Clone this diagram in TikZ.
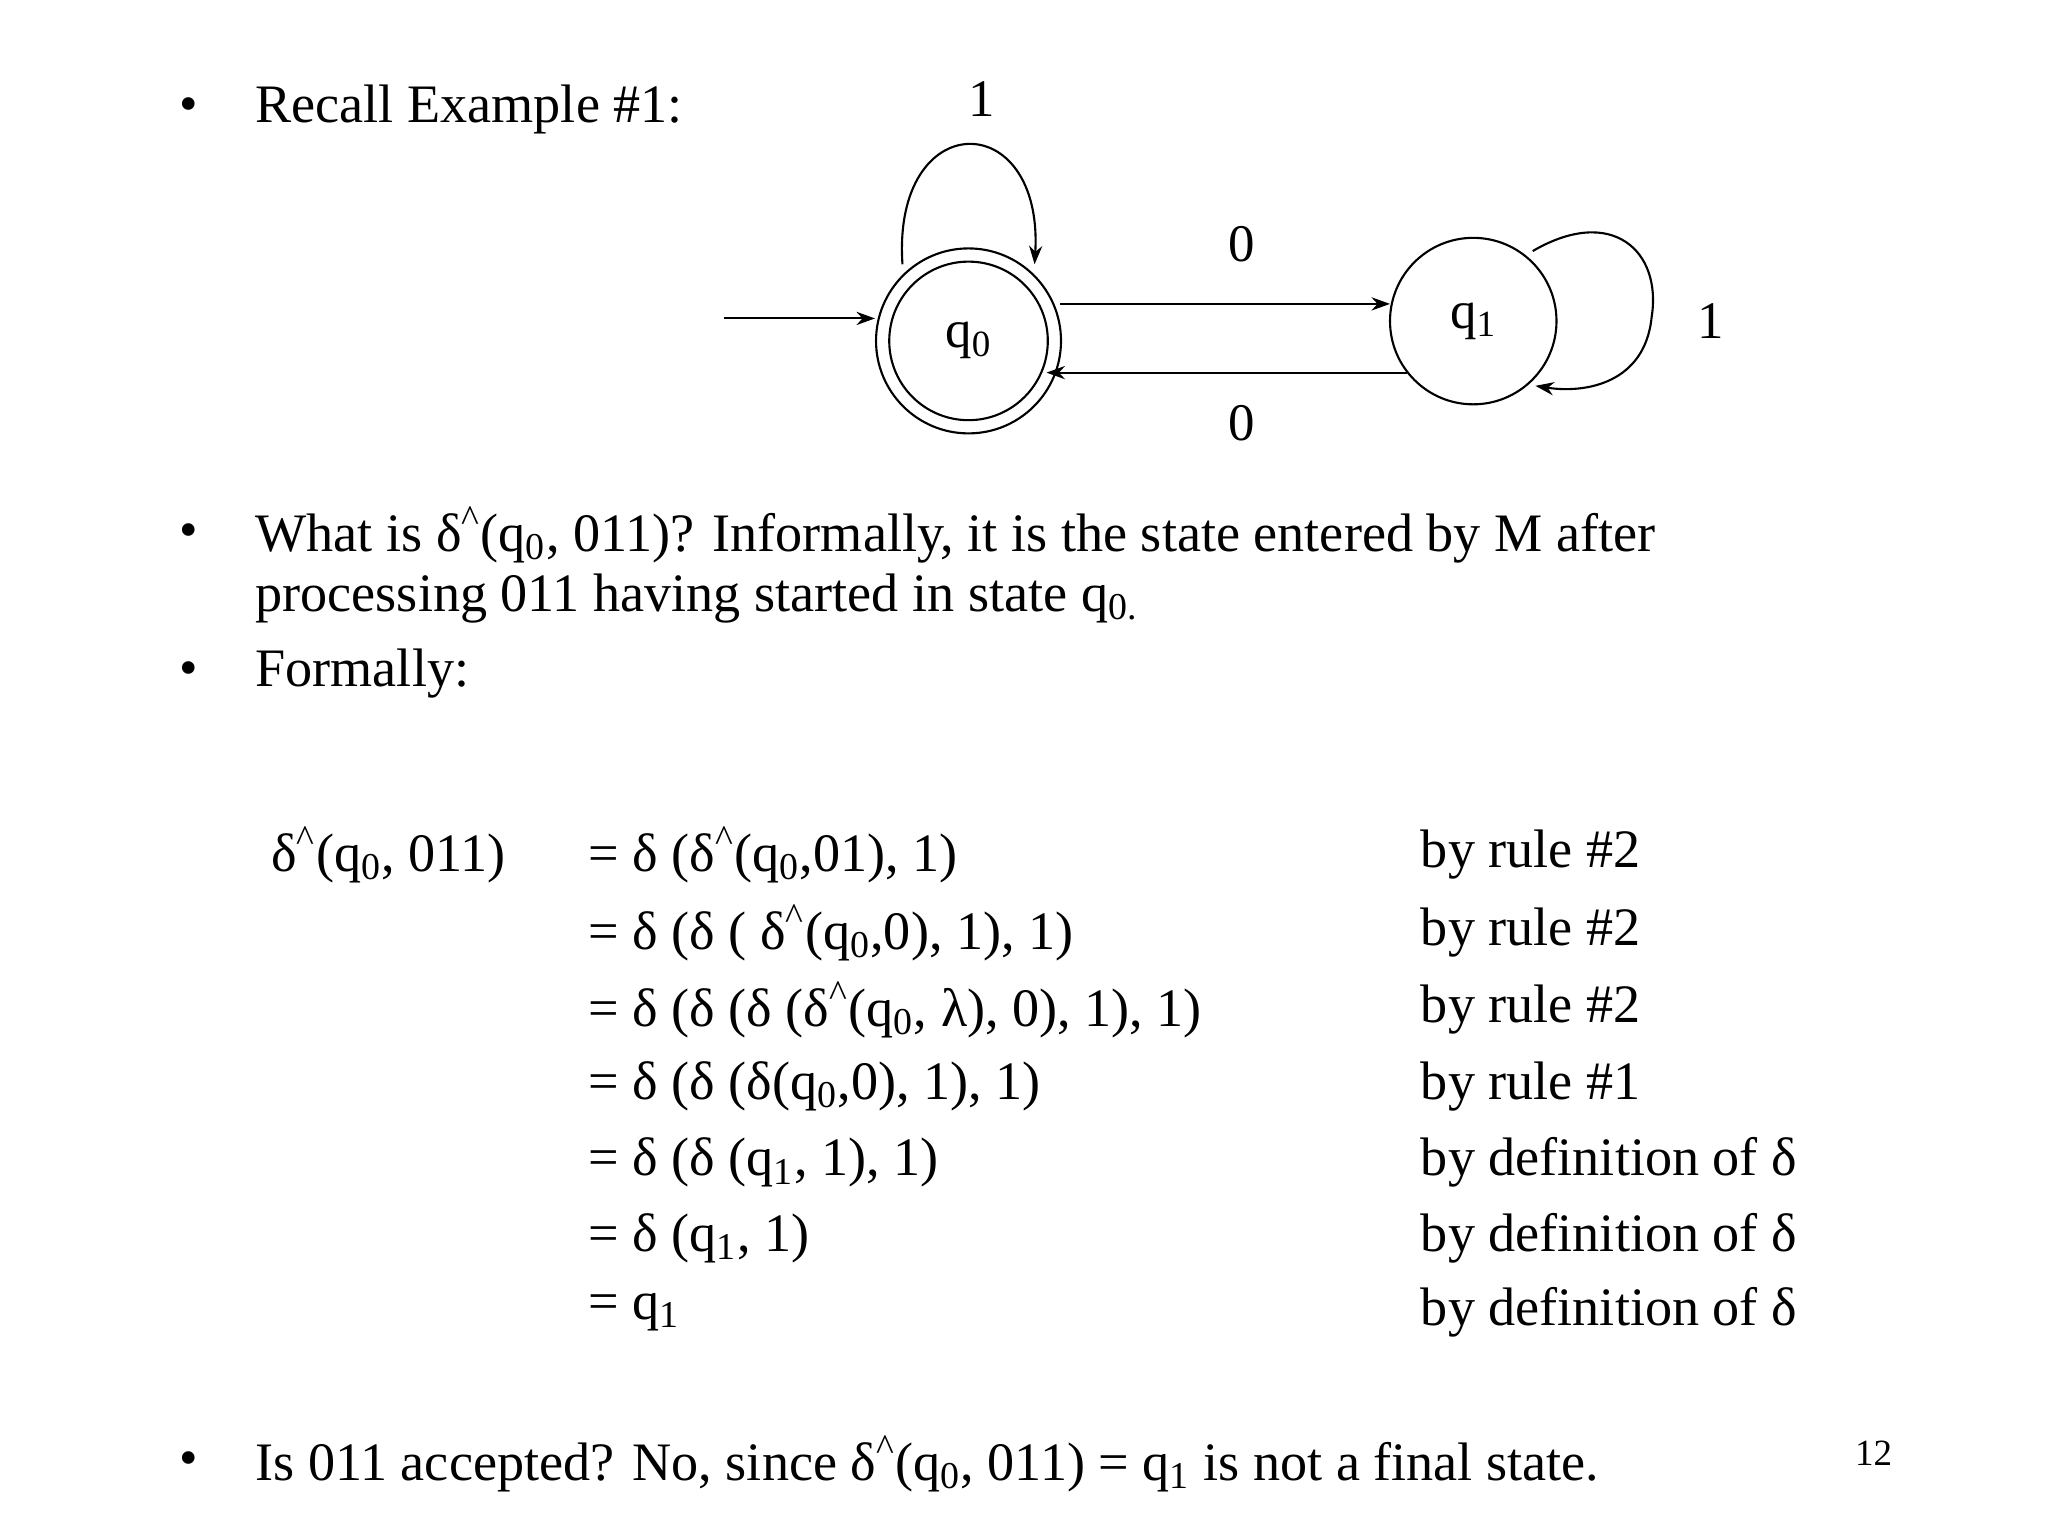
\documentclass[tikz,border=0pt]{standalone}
\usepackage{fontspec}
\setmainfont{Liberation Serif}
\usetikzlibrary{arrows.meta}
\newcommand{\myhat}{δ\textsuperscript{\^{}}}
\newcommand{\qz}{q\textsubscript{0}}
\newcommand{\qo}{q\textsubscript{1}}
\begin{document}
\begin{tikzpicture}[x=0.5pt,y=-0.5pt,
  txt/.style={anchor=west,inner sep=0pt,font=\fontsize{20.5}{24}\selectfont},
  lbl/.style={inner sep=0pt,font=\fontsize{20}{24}\selectfont},
  bul/.style={inner sep=0pt,font=\fontsize{20}{24}\selectfont},
  st/.style={circle,draw,line width=0.8pt,inner sep=0pt,font=\fontsize{20}{24}\selectfont},
  arr/.style={-{Stealth[length=7pt,width=5pt]},line width=0.8pt}]
\useasboundingbox (0,0) rectangle (1550,1162);
\fill[white] (0,0) rectangle (1550,1162);
% bullets
\foreach \n/\y in {b1/83,b2/405,b3/510,b4/1108}{\node[bul] (\n) at (143,\y) {•};}
\node[txt] (t1) at (193,83) {Recall Example \#1:};
\node[txt] (t2) at (193,405) {What is \myhat(\qz, 011)? Informally, it is the state entered by M after};
\node[txt] (t3) at (193,453) {processing 011 having started in state q\textsubscript{0.}};
\node[txt] (t4) at (193,510) {Formally:};
% equations
\node[txt] (e0) at (205,647) {\myhat(\qz, 011)};
\foreach \n/\y/\e/\r in {
 r1/647/{= δ (\myhat(\qz,01), 1)}/{by rule \#2},
 r2/706/{= δ (δ ( \myhat(\qz,0), 1), 1)}/{by rule \#2},
 r3/764/{= δ (δ (δ (\myhat(\qz, λ), 0), 1), 1)}/{by rule \#2},
 r4/822/{= δ (δ (δ(\qz,0), 1), 1)}/{by rule \#1},
 r5/880/{= δ (δ (\qo, 1), 1)}/{by definition of δ},
 r6/937/{= δ (\qo, 1)}/{by definition of δ},
 r7/993/{= \qo}/{by definition of δ}}{
 \node[txt] (\n) at (445,\y) {\e};
 \node[txt] (\n b) at (1075,\y) {\r};}
\node[txt] (t5) at (193,1108) {Is 011 accepted? No, since \myhat(\qz, 011) = \qo{} is not a final state.};
\node[lbl,font=\fontsize{14}{16}\selectfont] (pg) at (1418,1100) {12};
% automaton
\node[st,minimum size=70pt] (q0o) at (733,258) {};
\node[st,minimum size=60pt] (q0) at (733,258) {\qz};
\node[st,minimum size=63pt] (q1) at (1115,243) {\qo};
\coordinate (s) at (548,241);
\draw[arr] (s) -- (q0o.west |- s);
\coordinate (a1) at (802,230); \coordinate (a2) at (1052,230);
\draw[arr] (a1) -- (a2);
\coordinate (c1) at (1065,282); \coordinate (c2) at (792,282);
\draw[arr] (c1) -- (c2);
\node[lbl] (l0a) at (940,185) {0};
\node[lbl] (l0b) at (940,320) {0};
\coordinate (p1) at (683,200); \coordinate (p2) at (783,200);
\draw[arr] (p1) .. controls (675,80) and (790,80) .. (p2);
\node[lbl] (l1a) at (743,75) {1};
\coordinate (u1) at (1160,190); \coordinate (u2) at (1162,292);
\draw[arr] (u1) .. controls (1220,155) and (1258,190) .. (1250,240) .. controls (1245,290) and (1200,298) .. (u2);
\node[lbl] (l1b) at (1295,243) {1};
\end{tikzpicture}
\end{document}
